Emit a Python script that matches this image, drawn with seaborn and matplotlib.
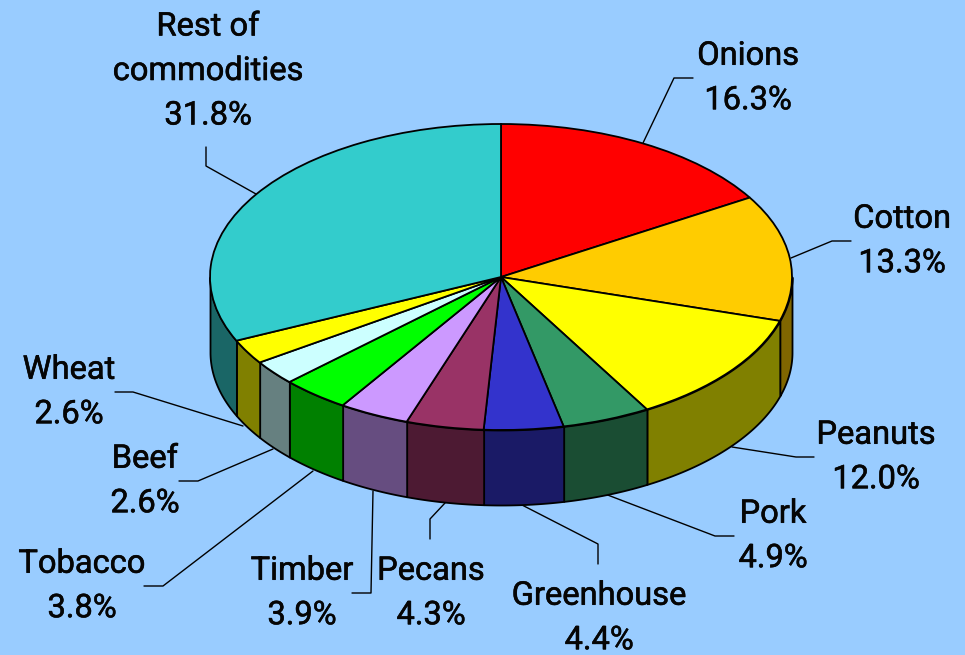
import numpy as np
import matplotlib
matplotlib.use('Agg')
import matplotlib.pyplot as plt
import matplotlib.patheffects as pe
from matplotlib.transforms import Affine2D
import seaborn as sns

# values
categories = ["Onions", "Cotton", "Peanuts", "Pork", "Greenhouse", "Pecans",
              "Timber", "Tobacco", "Beef", "Wheat", "Rest of\ncommodities"]
shares = [16.3, 13.3, 12.0, 4.9, 4.4, 4.3, 3.9, 3.8, 2.6, 2.6, 31.8]
top_colors = ["#ff0000", "#ffcc00", "#ffff00", "#339966", "#3333cc", "#993366",
              "#cc99ff", "#00ff00", "#ccffff", "#ffff00", "#33cccc"]

BG = "#99ccff"
# pie geometry in pixels of the 965x655 picture
CX, CY, RX, RY, DEPTH = 501, 277, 291, 153, 75

# label centres and leader lines, in pixels
label_pos = [(748, 78), (902, 241), (876, 457), (773, 536), (599, 618), (431, 593),
             (302, 593), (82, 586), (145, 481), (69, 392), (208, 71)]
leaders = [
    [(643, 143), (674, 78), (693, 78)],
    [(791, 258), (832, 241), (851, 241)],
    [(732, 447), (796, 457), (814, 457)],
    [(605, 494), (715, 536), (734, 536)],
    [(522, 505), (598, 544), (598, 564)],
    [(445, 503), (430, 519), (430, 539)],
    [(373, 491), (371, 593), (352, 593)],
    [(313, 471), (163, 586), (144, 586)],
    [(273, 449), (198, 481), (179, 481)],
    [(243, 426), (133, 392), (115, 392)],
    [(256, 194), (206, 166), (206, 147)],
]

sns.set_theme(style="white")
plt.rcParams['font.family'] = ['Roboto', 'Liberation Sans', 'DejaVu Sans']

fig = plt.figure(figsize=(9.65, 6.55), dpi=100, facecolor=BG)
ax = fig.add_axes([0, 0, 1, 1])

wedges, _ = ax.pie(shares, colors=top_colors, startangle=90, counterclock=False,
                   radius=1, wedgeprops=dict(edgecolor="black", linewidth=1.3, zorder=3))

# unit circle in data -> ellipse on the figure
ax.set_aspect('auto')
ax.set_xlim(-CX / RX, (965 - CX) / RX)
ax.set_ylim((CY - 655) / RY, CY / RY)
ax.axis('off')

# side wall of each slice, only the front half is seen
depth = DEPTH / RY
for w, c in zip(wedges, top_colors):
    t1, t2 = w.theta1 % 360, w.theta2 % 360
    if t2 <= t1:
        t2 += 360
    lo, hi = max(t1, 180), min(t2, 360)
    if hi <= lo:
        continue
    t = np.radians(np.linspace(lo, hi, 80))
    side = tuple(0.5 * v for v in sns.color_palette([c])[0])
    ax.fill_between(np.cos(t), np.sin(t), np.sin(t) - depth, facecolor=side,
                    edgecolor="black", linewidth=1.3, zorder=2)

# layout in picture pixels, y going down
px = Affine2D().scale(1 / 965, -1 / 655).translate(0, 1) + fig.transFigure
for name, share, (lx, ly), pts in zip(categories, shares, label_pos, leaders):
    ax.text(lx, ly, f"{name}\n{share:.1f}%", transform=px, ha="center", va="center",
            fontsize=23.5, color="#050505", linespacing=1.5, zorder=5,
            path_effects=[pe.withStroke(linewidth=0.4, foreground="#050505")])
    xs, ys = zip(*pts)
    ax.plot(xs, ys, transform=px, color="black", linewidth=1.0, zorder=1, clip_on=False)

fig.savefig("out.png", dpi=100, facecolor=BG)
